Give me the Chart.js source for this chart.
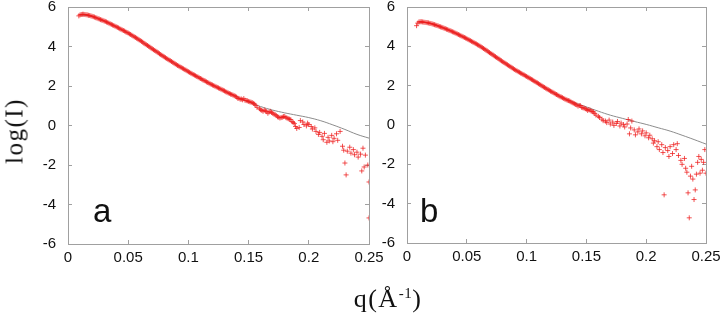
<!DOCTYPE html>
<html><head><meta charset="utf-8">
<script src="https://cdn.jsdelivr.net/npm/chart.js@4/dist/chart.umd.min.js"></script>
<style>
html,body{margin:0;padding:0;background:#fff;width:724px;height:313px;overflow:hidden;position:relative}
canvas{position:absolute;top:-17px}
#ca{left:0}
#cb{left:370px}
.pl{position:absolute;font-family:"Liberation Sans",Arial,sans-serif;font-size:33px;line-height:33px;color:#111}
#yt{position:absolute;left:14px;top:131px;transform:translate(-50%,-50%) rotate(-90deg);font-family:"Liberation Serif","Times New Roman",serif;font-size:25px;line-height:25px;letter-spacing:1.5px;white-space:nowrap;color:#111}
#xt{position:absolute;left:388px;top:286px;transform:translateX(-50%);font-family:"Liberation Serif","Times New Roman",serif;font-size:26px;line-height:25px;letter-spacing:1.5px;white-space:nowrap;color:#111}
#xt sup{font-size:15px;line-height:0;vertical-align:9px;letter-spacing:0.5px}
</style></head>
<body>
<canvas id="ca" width="394" height="292"></canvas>
<canvas id="cb" width="361" height="292"></canvas>
<div class="pl" style="left:93px;top:194px">a</div>
<div class="pl" style="left:420px;top:194px">b</div>
<div id="yt">log(I)</div>
<div id="xt">q(Å<sup>-1</sup>)</div>
<script>
// ---------- data ----------
const xTicks = [0, 0.05, 0.1, 0.15, 0.2, 0.25];
const yTicks = [-6, -4, -2, 0, 2, 4, 6];

// fitted curves (grey lines)
const qFit = [0.01,0.02,0.03,0.04,0.05,0.06,0.07,0.08,0.09,0.10,0.11,0.12,0.13,0.14,0.15,0.16,0.17,0.18,0.19,0.20,0.21,0.22,0.23,0.24,0.25];
const logIFitA = [5.60,5.52,5.30,5.00,4.68,4.30,3.88,3.47,3.08,2.72,2.38,2.05,1.75,1.46,1.19,0.96,0.78,0.64,0.52,0.40,0.24,0.03,-0.20,-0.45,-0.64];
const logIFitB = [5.24,5.16,4.95,4.69,4.39,4.05,3.64,3.22,2.82,2.47,2.10,1.72,1.40,1.14,0.92,0.70,0.50,0.34,0.18,0.03,-0.14,-0.31,-0.52,-0.74,-0.97];

// experimental data, panel a
const qExpA = [0.009,0.010,0.011,0.012,0.013,0.014,0.015,0.016,0.017,0.018,0.019,0.020,0.021,0.022,0.023,0.024,0.025,0.026,0.027,0.028,0.029,0.030,
0.031,0.032,0.033,0.034,0.035,0.036,0.037,0.038,0.039,0.040,0.041,0.042,0.043,0.044,0.045,0.046,0.047,0.048,0.049,0.050,
0.051,0.052,0.053,0.054,0.055,0.056,0.057,0.058,0.059,0.060,0.061,0.062,0.063,0.064,0.065,0.066,0.067,0.068,0.069,0.070,
0.071,0.072,0.073,0.074,0.075,0.076,0.077,0.078,0.079,0.080,0.081,0.082,0.083,0.084,0.085,0.086,0.087,0.088,0.089,0.090,
0.091,0.092,0.093,0.094,0.095,0.096,0.097,0.098,0.099,0.100,0.101,0.102,0.103,0.104,0.105,0.106,0.107,0.108,0.109,0.110,
0.111,0.112,0.113,0.114,0.115,0.116,0.117,0.118,0.119,0.120,0.121,0.122,0.123,0.124,0.125,0.126,0.127,0.128,0.129,0.130,
0.131,0.132,0.133,0.134,0.135,0.136,0.137,0.138,0.139,0.140,
0.141,0.142,0.143,0.144,0.145,0.146,0.147,0.148,0.149,0.150,0.151,0.152,0.153,0.154,0.155,0.156,0.157,
0.159,0.160,0.161,0.162,0.163,0.164,0.165,0.166,0.167,0.168,0.169,0.170,0.171,0.172,0.173,0.174,0.175,0.176,0.177,0.178,0.179,0.180,0.181,0.182,0.183,0.184,0.185,0.186,0.187,0.188,0.189,0.190,
0.192,0.193,0.195,0.196,0.198,0.199,0.200,0.202,0.203,0.205,0.206,0.208,0.209,0.211,0.212,0.213,0.215,0.216,0.217,0.219,0.220,0.221,0.223,0.224,0.226,0.228,0.229,0.230,0.231,0.232,0.234,0.235,0.237,0.238,0.240,0.241,0.243,0.244,0.245,0.246,0.247,0.249,0.250,0.250];
const logIExpA = [5.55,5.60,5.62,5.63,5.63,5.62,5.61,5.60,5.58,5.57,5.55,5.53,5.51,5.49,5.46,5.44,5.41,5.39,5.36,5.34,5.32,5.29,
5.27,5.24,5.21,5.18,5.15,5.12,5.09,5.06,5.03,5.00,4.97,4.94,4.90,4.87,4.84,4.81,4.78,4.74,4.71,4.68,
4.64,4.61,4.57,4.53,4.49,4.46,4.42,4.38,4.34,4.30,4.26,4.22,4.17,4.13,4.09,4.05,4.01,3.97,3.92,3.88,
3.84,3.80,3.76,3.72,3.68,3.63,3.59,3.55,3.51,3.47,3.43,3.39,3.35,3.31,3.28,3.24,3.20,3.16,3.12,3.08,
3.04,3.01,2.97,2.94,2.90,2.87,2.83,2.80,2.76,2.72,2.69,2.65,2.62,2.58,2.55,2.52,2.48,2.45,2.41,2.38,
2.35,2.31,2.28,2.25,2.21,2.18,2.15,2.11,2.08,2.05,2.02,1.99,1.96,1.93,1.90,1.87,1.84,1.81,1.78,1.75,
1.71,1.68,1.65,1.62,1.59,1.57,1.54,1.51,1.48,1.44,
1.38,1.37,1.33,1.34,1.30,1.36,1.28,1.26,1.25,1.22,1.20,1.18,1.16,1.12,1.08,1.02,0.92,
0.85,0.80,0.76,0.72,0.78,0.74,0.70,0.62,0.68,0.72,0.66,0.62,0.58,0.55,0.50,0.44,0.42,0.38,0.40,0.42,0.45,0.46,0.40,0.37,0.34,0.32,0.30,0.20,0.15,0.10,-0.05,-0.15,
-0.10,0.25,0.18,0.05,-0.02,0.12,0.05,-0.05,-0.18,-0.12,-0.30,-0.45,-0.35,-0.55,-0.72,-0.40,-0.85,-0.60,-0.78,-0.50,-0.82,-0.65,-0.42,-0.75,-0.30,-1.05,-1.25,-1.90,-2.50,-1.30,-1.10,-1.40,-1.22,-1.48,-1.35,-1.60,-1.45,-2.30,-1.15,-2.10,-1.50,-2.00,-2.86,-4.68];

// experimental data, panel b
const qExpB = [0.008,0.009,0.010,0.011,0.012,0.013,0.014,0.015,0.016,0.017,0.018,0.019,0.020,0.021,0.022,0.023,0.024,0.025,0.026,0.027,0.028,0.029,0.030,
0.031,0.032,0.033,0.034,0.035,0.036,0.037,0.038,0.039,0.040,0.041,0.042,0.043,0.044,0.045,0.046,0.047,0.048,0.049,0.050,
0.051,0.052,0.053,0.054,0.055,0.056,0.057,0.058,0.059,0.060,0.061,0.062,0.063,0.064,0.065,0.066,0.067,0.068,0.069,0.070,
0.071,0.072,0.073,0.074,0.075,0.076,0.077,0.078,0.079,0.080,0.081,0.082,0.083,0.084,0.085,0.086,0.087,0.088,0.089,0.090,
0.091,0.092,0.093,0.094,0.095,0.096,0.097,0.098,0.099,0.100,0.101,0.102,0.103,0.104,0.105,0.106,0.107,0.108,0.109,0.110,
0.111,0.112,0.113,0.114,0.115,0.116,0.117,0.118,0.119,0.120,0.121,0.122,0.123,0.124,0.125,0.126,0.127,0.128,0.129,0.130,
0.131,0.132,0.133,0.134,0.135,0.136,0.137,0.138,0.139,0.140,
0.141,0.142,0.143,0.144,0.145,0.146,0.147,0.148,0.149,0.150,0.151,0.152,0.153,0.154,0.155,0.156,0.157,0.158,
0.160,0.161,0.163,0.164,0.166,0.167,0.169,0.170,0.172,0.173,0.175,0.176,0.178,0.179,0.181,0.182,0.184,0.185,0.186,0.187,
0.188,0.190,0.191,0.193,0.194,0.196,0.197,0.199,0.200,0.202,0.203,0.205,0.206,0.207,0.209,0.210,0.211,0.213,0.214,0.215,
0.216,0.218,0.219,0.220,0.222,0.223,0.225,0.226,0.227,0.229,0.230,0.232,0.233,0.234,0.235,0.236,0.237,0.238,0.239,0.240,
0.241,0.242,0.243,0.244,0.245,0.246,0.247,0.248,0.249,0.250];
const logIExpB = [5.05,5.18,5.24,5.25,5.25,5.24,5.23,5.22,5.21,5.20,5.19,5.17,5.16,5.14,5.12,5.10,5.08,5.06,5.04,5.01,4.99,4.97,4.95,
4.92,4.90,4.87,4.85,4.82,4.80,4.77,4.74,4.72,4.69,4.66,4.63,4.60,4.57,4.54,4.51,4.48,4.45,4.42,4.39,
4.35,4.32,4.29,4.25,4.22,4.19,4.15,4.12,4.08,4.05,4.01,3.97,3.93,3.89,3.85,3.81,3.77,3.72,3.68,3.64,
3.60,3.56,3.51,3.47,3.43,3.39,3.35,3.30,3.26,3.22,3.18,3.14,3.10,3.06,3.02,2.98,2.94,2.90,2.86,2.82,
2.78,2.75,2.71,2.68,2.64,2.61,2.57,2.54,2.50,2.47,2.43,2.40,2.36,2.32,2.29,2.25,2.21,2.17,2.14,2.10,
2.06,2.02,1.98,1.94,1.91,1.87,1.83,1.80,1.76,1.72,1.69,1.66,1.62,1.58,1.55,1.52,1.48,1.44,1.42,1.39,
1.35,1.32,1.29,1.26,1.24,1.22,1.18,1.14,1.11,1.08,
1.05,1.02,0.96,0.99,0.98,0.90,0.88,0.86,0.83,0.80,0.74,0.78,0.76,0.70,0.68,0.66,0.58,0.50,
0.44,0.38,0.30,0.22,0.20,0.12,0.25,0.05,0.15,-0.02,0.08,0.18,-0.05,0.10,0.02,-0.10,0.05,0.28,-0.45,-0.15,
0.20,-0.25,-0.50,-0.35,-0.20,-0.45,-0.30,-0.55,-0.40,-0.65,-0.52,-0.70,-0.92,-0.80,-1.10,-0.85,-1.25,-1.00,-1.40,-3.55,
-1.15,-1.30,-1.60,-1.10,-1.45,-1.00,-1.25,-0.95,-1.55,-1.80,-2.00,-1.70,-2.20,-2.40,-3.45,-4.72,-2.60,-2.10,-2.75,-3.79,
-3.30,-2.50,-1.90,-1.60,-2.45,-1.75,-2.30,-1.90,-1.25,-2.45];

// ---------- drawing ----------
const pts = (xs, ys) => xs.map((x, i) => ({x: x, y: ys[i]}));
const frameCol = '#a0a0a0';

function makeScales(leftW, rightW, topH, bottomH) {
  const grid = {drawOnChartArea: false, drawTicks: true, tickLength: -4, color: frameCol, lineWidth: 1};
  const border = {display: true, color: frameCol, width: 1};
  const font = {family: '"Liberation Sans", Arial, sans-serif', size: 15, lineHeight: 1};
  const fmt = v => String(v);
  return {
    x: {type: 'linear', position: 'bottom', min: xTicks[0], max: xTicks[xTicks.length - 1],
        afterBuildTicks: s => { s.ticks = xTicks.map(v => ({value: v})); },
        ticks: {padding: 10, color: '#111', font: font, maxRotation: 0, autoSkip: false, callback: fmt},
        grid: grid, border: border, afterFit: s => { s.height = bottomH; }},
    x2: {type: 'linear', position: 'top', min: xTicks[0], max: xTicks[xTicks.length - 1],
        afterBuildTicks: s => { s.ticks = xTicks.map(v => ({value: v})); },
        ticks: {display: false}, grid: grid, border: border, afterFit: s => { s.height = topH; }},
    y: {type: 'linear', position: 'left', min: yTicks[0], max: yTicks[yTicks.length - 1],
        afterBuildTicks: s => { s.ticks = yTicks.map(v => ({value: v})); },
        ticks: {padding: 16, color: '#111', font: font, callback: fmt},
        grid: grid, border: border, afterFit: s => { s.width = leftW; }},
    y2: {type: 'linear', position: 'right', min: yTicks[0], max: yTicks[yTicks.length - 1],
        afterBuildTicks: s => { s.ticks = yTicks.map(v => ({value: v})); },
        ticks: {display: false}, grid: grid, border: border, afterFit: s => { s.width = rightW; }}
  };
}

function makeChart(id, qE, vE, vFit, leftW, rightW, topH, bottomH) {
  return new Chart(document.getElementById(id), {
    type: 'scatter',
    data: {datasets: [
      {label: 'exp', data: pts(qE, vE), pointStyle: 'cross', pointRadius: 2.5, pointHoverRadius: 2.5,
       borderColor: 'rgba(238,28,28,0.75)', backgroundColor: 'rgba(238,28,28,0.75)', pointBorderWidth: 1, showLine: false, order: 1},
      {label: 'fit', data: pts(qFit, vFit), showLine: true, pointRadius: 0, borderColor: '#8c8c8c',
       borderWidth: 1, tension: 0.4, fill: false, order: 2}
    ]},
    options: {
      responsive: false, animation: false, devicePixelRatio: 1,
      layout: {padding: 0},
      plugins: {legend: {display: false}, tooltip: {enabled: false}},
      scales: makeScales(leftW, rightW, topH, bottomH)
    }
  });
}

makeChart('ca', qExpA, logIExpA, logIFitA, 68, 25, 24, 31);
makeChart('cb', qExpB, logIExpB, logIFitB, 37, 25, 24, 32);
</script>
</body></html>
